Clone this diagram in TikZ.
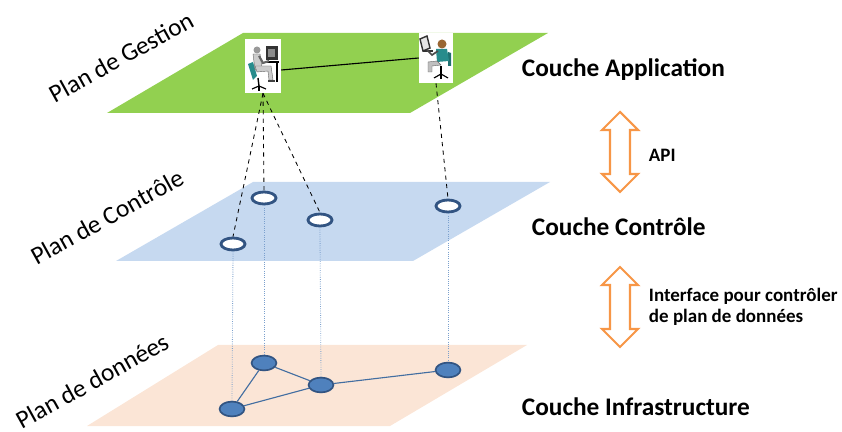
\documentclass[tikz,border=0pt]{standalone}
\usepackage{fontspec}
\setmainfont{Carlito}
\usetikzlibrary{shapes.geometric}

\definecolor{vertplan}{RGB}{146,208,80}
\definecolor{bleuplan}{RGB}{198,217,240}
\definecolor{peche}{RGB}{251,229,214}
\definecolor{orangefleche}{RGB}{247,150,70}
\definecolor{bleunoeud}{RGB}{79,129,189}
\definecolor{bleubord}{RGB}{50,84,130}
\definecolor{sarcelle}{RGB}{40,140,140}

% double arrow between two layers, centred at (#1,#2)
\newcommand{\flechedouble}[2]{%
\draw[fleche] (#1,#2) ++(0,-40) -- ++(18,18) -- ++(-8,0) -- ++(0,44) -- ++(8,0)
  -- ++(-18,18) -- ++(-18,-18) -- ++(8,0) -- ++(0,-44) -- ++(-8,0) -- cycle;}

\begin{document}
\begin{tikzpicture}[x=0.025cm,y=-0.025cm]
\tikzstyle{poste}=[rectangle,fill=white,inner sep=0pt]
\tikzstyle{controleur}=[ellipse,draw=bleubord,fill=white,line width=2pt,minimum width=0.6cm,minimum height=0.3cm,inner sep=0pt]
\tikzstyle{commutateur}=[ellipse,draw=bleubord,fill=bleunoeud,line width=1.2pt,minimum width=0.62cm,minimum height=0.37cm,inner sep=0pt]
\tikzstyle{lien}=[draw=bleunoeud!85!black,line width=0.8pt]
\tikzstyle{controle}=[dashed,line width=0.6pt]
\tikzstyle{descente}=[densely dotted,draw=bleunoeud!75,line width=0.6pt]
\tikzstyle{fleche}=[draw=orangefleche,fill=white,line width=1.5pt,line join=miter]
\tikzstyle{couche}=[anchor=west,font=\fontsize{18}{21}\selectfont\bfseries]
\tikzstyle{nomplan}=[rotate=29,inner sep=0pt,font=\fontsize{18}{21}\selectfont]
\tikzstyle{annot}=[anchor=west,align=left,font=\fontsize{13.5}{15}\selectfont\bfseries]

\useasboundingbox (0,0) rectangle (842,432);

% Draw the three planes
\fill[vertplan] (243,33) -- (548,33) -- (410,113) -- (107,113) -- cycle;
\fill[bleuplan] (253,182) -- (550,182) -- (413,261) -- (116,261) -- cycle;
\fill[peche] (218,345) -- (527,345) -- (390,426) -- (87,426) -- cycle;

\node[nomplan] (pg) at (121,57) {Plan de Gestion};
\node[nomplan] (pc) at (107,217) {Plan de Contrôle};
\node[nomplan] (pd) at (92,381) {Plan de données};

% Management stations
\node[poste,minimum width=0.9cm,minimum height=1.35cm] (g1) at (263,66) {};
\node[poste,minimum width=0.85cm,minimum height=1.25cm] (g2) at (436,58) {};

% operator at a desktop
\begin{scope}[shift={(g1.center)}]
\fill[sarcelle] (-15,-2) -- (-10,-4) -- (-6,10) -- (-10,14) -- cycle;
\draw[line width=1pt] (-5,12) -- (-4,20);
\draw[line width=0.8pt] (-11,23) -- (-4,20) -- (3,23);
\draw[line width=0.8pt] (-4,20) -- (-4,25);
\fill[black!80] (3,-20) rectangle (15,-6);
\fill[black!45] (5,-17) rectangle (12,-9);
\draw[line width=0.8pt] (2,-4) -- (16,-4);
\draw[line width=0.8pt] (14,-4) -- (14,16);
\fill[black!20,draw=black!60,line width=0.3pt] (-10,-12) -- (-3,-12) -- (-1,2) -- (-8,4) -- cycle;
\fill[black!20,draw=black!60,line width=0.3pt] (-8,0) -- (8,0) -- (10,14) -- (6,14) -- (5,5) -- (-6,6) -- cycle;
\fill[black!40] (-6,-16) circle (3.5);
\draw[black!60,line width=1.5pt] (-4,-10) -- (0,-3) -- (6,-5);
\fill[black!75] (5,14) rectangle (12,16);
\end{scope}

% operator at a laptop
\begin{scope}[shift={(g2.center)}]
\draw[black!80,line width=1pt,fill=black!10] (-16,-19) -- (-9,-22) -- (-6,-10) -- (-13,-7) -- cycle;
\draw[black!80,line width=1pt] (-13,-7) -- (-3,-7);
\fill[sarcelle!80!black] (12,-6) -- (15,-5) -- (15,8) -- (12,8) -- cycle;
\fill[sarcelle] (0,-9) -- (11,-9) -- (13,3) -- (1,4) -- cycle;
\fill[black!25,draw=black!60,line width=0.3pt] (1,3) -- (-8,4) -- (-8,14) -- (-4,14) -- (-4,8) -- (5,7) -- cycle;
\fill[brown!80!black] (6,-14) circle (4.5);
\draw[black!70,line width=1.2pt] (2,-7) -- (-4,-3) -- (-9,-8);
\draw[line width=1pt] (5,8) -- (5,17);
\draw[line width=0.8pt] (-2,20) -- (5,16) -- (12,20);
\draw[line width=0.8pt] (5,16) -- (5,21);
\end{scope}

\draw[line width=0.8pt] ([yshift=-0.1cm]g1.east) -- (g2.west);

% Draw the controllers
\foreach \name / \x / \y in {1/233/244, 2/264/198, 3/320/220, 4/448/206}
\node[controleur] (c\name) at (\x,\y) {};

% Draw the switches
\foreach \name / \x / \y in {1/232/409, 2/264/363, 3/321/385, 4/448/370}
\node[commutateur] (d\name) at (\x,\y) {};

% Links between the switches
\foreach \source / \dest in {1/2, 2/3, 1/3, 3/4}
\path[lien] (d\source) -- (d\dest);

% Management plane down to the controllers
\foreach \dest in {1,2,3}
\draw[controle] (g1.south) -- (c\dest.north);
\draw[controle] (g2.south) -- (c4.north);

% Controllers down to the switches
\foreach \dest in {1,...,4}
\draw[descente] (c\dest.south) -- (d\dest.north);

% Annotate the layers
\node[couche] (ca) at (517,70) {Couche Application};
\node[couche] (cc) at (527,227) {Couche Contrôle};
\node[couche] (ci) at (517,407) {Couche Infrastructure};

\flechedouble{620}{152}
\flechedouble{620}{307}
\node[annot] (api) at (644,155) {API};
\node[annot] (sbi) at (644,307) {Interface pour contrôler\\de plan de données};
\end{tikzpicture}
\end{document}
